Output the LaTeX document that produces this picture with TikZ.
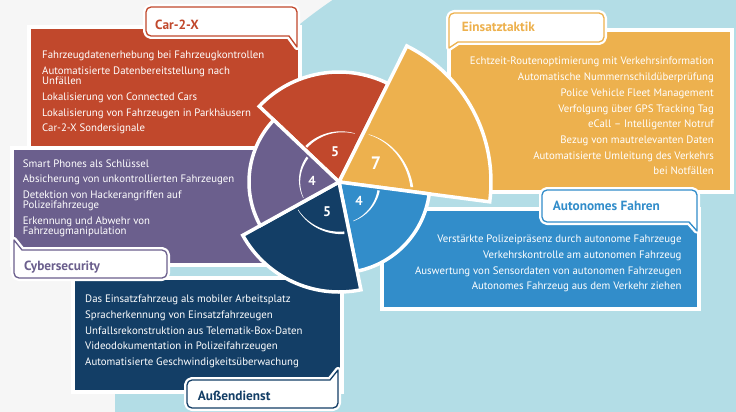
\documentclass[tikz,border=0pt]{standalone}
\usepackage{fontspec}
\setmainfont{PT Sans}
\definecolor{cred}{HTML}{C1482C}
\definecolor{corange}{HTML}{EDB14E}
\definecolor{cpurple}{HTML}{6B5F8D}
\definecolor{cnavy}{HTML}{133E66}
\definecolor{cblue}{HTML}{328DCA}
\definecolor{cbg}{HTML}{B3DDE6}
\definecolor{cgray}{HTML}{F6F6F6}
\tikzset{
  boxframe/.style={draw=white, line width=4},
  sector/.style={draw=white, line width=3.5, line join=miter},
  itemtext/.style={text=white, font=\fontsize{10.8}{12}\selectfont, inner sep=0},
  tabline/.style={fill=white, line width=1.3, line join=round, preaction={draw=white, line width=6, line join=round}},
  tabtext/.style={font=\fontsize{13.3}{16}\selectfont\bfseries, inner sep=0, anchor=base west},
  numtext/.style={text=white, inner sep=0},
}
\newcommand{\taperarc}[6]{%
 \fill[white] plot[domain=#1:#2, samples=40] ({339+((#3)+((#4)-(#3))*(\x-(#1))/((#2)-(#1))+0.5*((#5)+((#6)-(#5))*(\x-(#1))/((#2)-(#1))))*cos(\x)}, {182+((#3)+((#4)-(#3))*(\x-(#1))/((#2)-(#1))+0.5*((#5)+((#6)-(#5))*(\x-(#1))/((#2)-(#1))))*sin(\x)})
 -- plot[domain=#2:#1, samples=40] ({339+((#3)+((#4)-(#3))*(\x-(#1))/((#2)-(#1))-0.5*((#5)+((#6)-(#5))*(\x-(#1))/((#2)-(#1))))*cos(\x)}, {182+((#3)+((#4)-(#3))*(\x-(#1))/((#2)-(#1))-0.5*((#5)+((#6)-(#5))*(\x-(#1))/((#2)-(#1))))*sin(\x)}) -- cycle;}
\begin{document}
\begin{tikzpicture}[x=1pt,y=-1pt]
\useasboundingbox (0,0) rectangle (736,412);
\fill[cgray] (0,0) rectangle (736,412);
\begin{scope}
\clip (0,0) rectangle (736,412);
\fill[cbg] (610,410) circle[radius=495];
\end{scope}

% boxes
\draw[boxframe, fill=cred] (29,27) rectangle (300,148);
\draw[boxframe, fill=corange] (449,30) rectangle (732,192);
\draw[boxframe, fill=cpurple] (12,148) rectangle (292,265);
\draw[boxframe, fill=cnavy] (73,278) rectangle (342,392);
\draw[boxframe, fill=cblue] (382,209) rectangle (699,309);

% item texts
\foreach \t/\y [count=\i] in {{Fahrzeugdatenerhebung bei Fahrzeugkontrollen}/58.7, {Automatisierte Datenbereitstellung nach}/74.8, {Unfällen}/84.3, {Lokalisierung von Connected Cars}/100.6, {Lokalisierung von Fahrzeugen in Parkhäusern}/116.2, {Car-2-X Sondersignale}/131.7}
  \node[itemtext, anchor=base west] (car\i) at (42,\y) {\t};
\foreach \t/\y [count=\i] in {{Echtzeit-Routenoptimierung mit Verkehrsinformation}/65, {Automatische Nummernschildüberprüfung}/80.7, {Police Vehicle Fleet Management}/96.4, {Verfolgung über GPS Tracking Tag}/112.1, {eCall – Intelligenter Notruf}/127.8, {Bezug von mautrelevanten Daten}/143.5, {Automatisierte Umleitung des Verkehrs}/159.2, {bei Notfällen}/174.9}
  \node[itemtext, anchor=base east] (ein\i) at (714,\y) {\t};
\foreach \t/\y [count=\i] in {{Smart Phones als Schlüssel}/167.7, {Absicherung von unkontrollierten Fahrzeugen}/182.7, {Detektion von Hackerangriffen auf}/198.3, {Polizeifahrzeuge}/208.3, {Erkennung und Abwehr von}/224, {Fahrzeugmanipulation}/234}
  \node[itemtext, anchor=base west] (cyb\i) at (22.7,\y) {\t};
\foreach \t/\y [count=\i] in {{Das Einsatzfahrzeug als mobiler Arbeitsplatz}/302.3, {Spracherkennung von Einsatzfahrzeugen}/318.3, {Unfallsrekonstruktion aus Telematik-Box-Daten}/334.3, {Videodokumentation in Polizeifahrzeugen}/349.3, {Automatisierte Geschwindigkeitsüberwachung}/365}
  \node[itemtext, anchor=base west] (aus\i) at (85,\y) {\t};
\foreach \t/\y [count=\i] in {{Verstärkte Polizeipräsenz durch autonome Fahrzeuge}/242.7, {Verkehrskontrolle am autonomen Fahrzeug}/258.3, {Auswertung von Sensordaten von autonomen Fahrzeugen}/274, {Autonomes Fahrzeug aus dem Verkehr ziehen}/289.3}
  \node[itemtext, anchor=base east] (aut\i) at (681.7,\y) {\t};

% tabs
\draw[tabline, draw=cred] (146,12) arc[start angle=180,end angle=270,radius=5] -- (292,7) arc[start angle=270,end angle=360,radius=5] -- (297,47) -- (289,36) -- (151,36) arc[start angle=90,end angle=180,radius=5] -- cycle;
\node[tabtext, text=cred] (tcar) at (155,29.3) {Car-2-X};
\draw[tabline, draw=corange] (449,18) arc[start angle=180,end angle=270,radius=5] -- (599,13) arc[start angle=270,end angle=360,radius=5] -- (604,37) arc[start angle=0,end angle=90,radius=5] -- (458,42) -- (449,48) -- cycle;
\node[tabtext, text=corange] (tein) at (461.7,31.7) {Einsatztaktik};
\draw[tabline, draw=cpurple] (14,240) -- (22,250) -- (162,250) arc[start angle=270,end angle=360,radius=5] -- (167,273) arc[start angle=0,end angle=90,radius=5] -- (19,278) arc[start angle=90,end angle=180,radius=5] -- cycle;
\node[tabtext, text=cpurple] (tcyb) at (24,270) {Cybersecurity};
\draw[tabline, draw=cnavy] (187,385) arc[start angle=180,end angle=270,radius=5] -- (330,380) -- (338,370) -- (338,403) arc[start angle=0,end angle=90,radius=5] -- (192,408) arc[start angle=90,end angle=180,radius=5] -- cycle;
\node[tabtext, text=cnavy] (taus) at (197.7,400.7) {Außendienst};
\draw[tabline, draw=cblue] (542,195) arc[start angle=180,end angle=270,radius=5] -- (692,190) arc[start angle=270,end angle=360,radius=5] -- (697,231) -- (689,222) -- (547,222) arc[start angle=90,end angle=180,radius=5] -- cycle;
\node[tabtext, text=cblue] (taut) at (552.7,210.7) {Autonomes Fahren};

% wheel
\coordinate (C) at (339,182);
\draw[sector, fill=cred] (C) -- ++(-136.5:110) arc[start angle=-136.5, end angle=-63.5, radius=110] -- cycle;
\draw[sector, fill=corange] (C) -- ++(-63.5:152) arc[start angle=-63.5, end angle=7.5, radius=152] -- cycle;
\draw[sector, fill=cblue] (C) -- ++(7.5:91) arc[start angle=7.5, end angle=78.5, radius=91] -- cycle;
\draw[sector, fill=cnavy] (C) -- ++(78.5:110) arc[start angle=78.5, end angle=151, radius=110] -- cycle;
\draw[sector, fill=cpurple] (C) -- ++(151:90) arc[start angle=151, end angle=223.5, radius=90] -- cycle;

% inner arcs
\taperarc{-133}{-72}{48}{51}{2.6}{0.4}
\taperarc{-58}{4}{56}{73}{0.4}{2.8}
\taperarc{218}{156}{40}{39}{2.4}{0.4}
\taperarc{146}{84}{49.5}{51}{0.4}{2.6}
\taperarc{12}{70}{40.5}{41.5}{2.4}{0.4}

% numbers
\node[numtext, font=\fontsize{14}{14}\selectfont\bfseries] (n1) at (335,152) {5};
\node[numtext, font=\fontsize{18}{18}\selectfont\bfseries] (n2) at (376,163) {7};
\node[numtext, font=\fontsize{13}{13}\selectfont\bfseries] (n3) at (312,181) {4};
\node[numtext, font=\fontsize{14}{14}\selectfont\bfseries] (n4) at (327,212) {5};
\node[numtext, font=\fontsize{13}{13}\selectfont\bfseries] (n5) at (359,201) {4};
\end{tikzpicture}
\end{document}
